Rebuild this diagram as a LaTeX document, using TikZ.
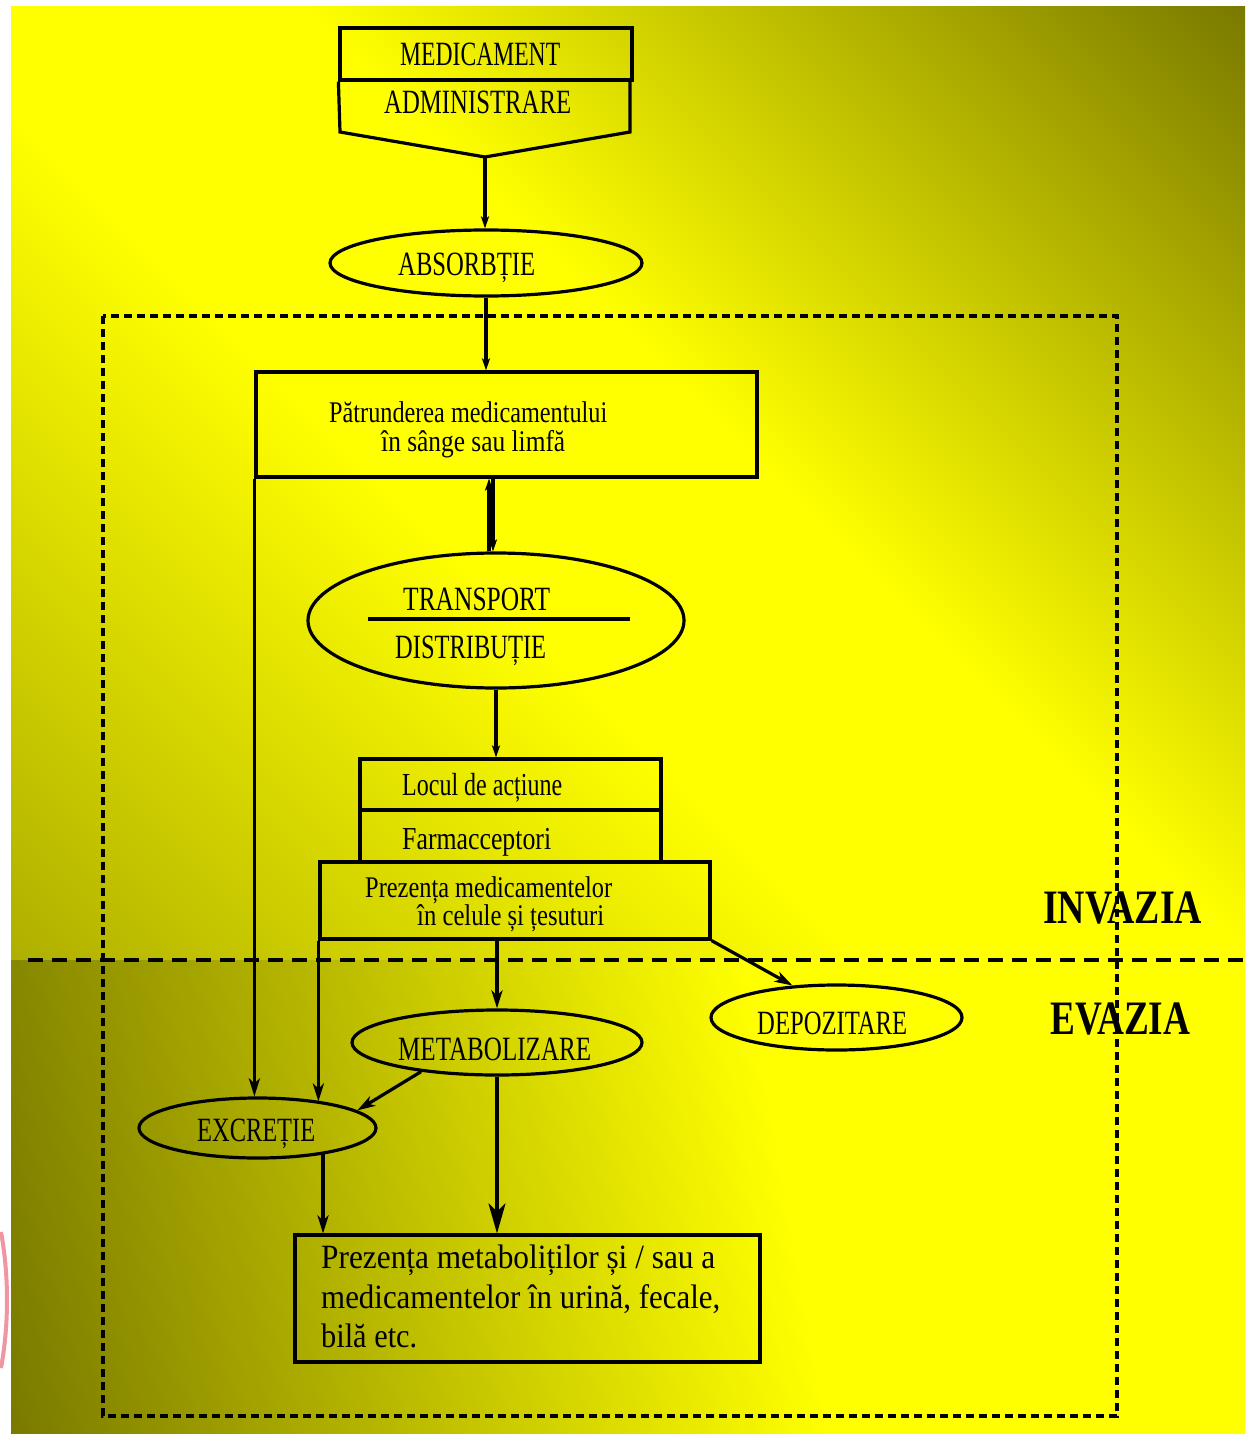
\documentclass[tikz,border=0pt]{standalone}
\usepackage{fontspec}
\setmainfont{Liberation Serif}
\usetikzlibrary{shapes.geometric,arrows.meta}
\definecolor{yel}{RGB}{255,255,0}
\definecolor{olD}{RGB}{122,122,0}
\definecolor{olM}{RGB}{175,175,0}
\definecolor{pinkarc}{RGB}{240,150,160}
\pgfdeclarehorizontalshading{topbg}{100bp}{color(0bp)=(olM); color(14.6bp)=(olM); color(42bp)=(yel); color(55bp)=(yel); color(85.4bp)=(olD); color(100bp)=(olD)}
\pgfdeclarehorizontalshading{botbg}{100bp}{color(0bp)=(olD); color(21bp)=(olD); color(57bp)=(yel); color(100bp)=(yel)}
\newcommand{\fitx}[2]{\resizebox{#1bp}{\height}{#2}}
\begin{document}
\begin{tikzpicture}[x=1bp,y=-1bp,
  box/.style={draw, line width=3.2bp, rectangle, inner sep=0pt},
  oval/.style={draw, line width=3.2bp, ellipse, inner sep=0pt},
  lbl/.style={anchor=base west, inner sep=0pt},
  capsf/.style={font=\fontsize{34bp}{40bp}\selectfont},
  smallf/.style={font=\fontsize{30bp}{36bp}\selectfont},
  midf/.style={font=\fontsize{32bp}{38bp}\selectfont},
  bigf/.style={font=\fontsize{34bp}{40bp}\selectfont},
  headf/.style={font=\fontsize{48bp}{54bp}\selectfont\bfseries},
  arr/.style={line width=3.2bp, -{Stealth[length=18bp,width=11bp,inset=5bp]}},
  arrs/.style={line width=3.2bp, -{Stealth[length=12bp,width=8bp,inset=3bp]}},
  bigarr/.style={line width=3.2bp, -{Stealth[length=30bp,width=17bp,inset=8bp]}},
  dashrect/.style={line width=3.2bp, dash pattern=on 8bp off 5bp},
  dashdiv/.style={line width=3.2bp, dash pattern=on 15bp off 9bp},
  edge/.style={line width=3.2bp}]
\useasboundingbox (0,0) rectangle (1245,1434);
\fill[white] (0,0) rectangle (1245,1434);
\shade[shading=topbg, shading angle=45] (11,7) rectangle (1245,960);
\shade[shading=botbg, shading angle=10] (11,960) rectangle (1245,1434);
\draw[pinkarc, line width=4bp] (1,1232) .. controls (9,1275) and (9,1325) .. (1,1368);

% shapes
\node[box, minimum width=292bp, minimum height=52bp] (med) at (486,54) {};
\coordinate (admtip) at (485,157);
\draw[edge, line join=miter] (med.south west) -- (340,132) -- (admtip) -- (630,132) -- (630,80);
\node[oval, minimum width=312bp, minimum height=66bp] (abs) at (486,263) {};
\node[box, minimum width=501bp, minimum height=105bp] (pat) at (506.5,424.5) {};
\node[oval, minimum width=376bp, minimum height=135bp] (trans) at (496,620.5) {};
\draw[edge] (368,619) -- (630,619);
\node[box, minimum width=301bp, minimum height=51bp] (loc) at (510.5,784.5) {};
\node[box, minimum width=301bp, minimum height=52bp] (farm) at (510.5,836) {};
\node[box, minimum width=390bp, minimum height=77bp] (prez) at (515,900.5) {};
\node[oval, minimum width=251bp, minimum height=65bp] (dep) at (836.5,1017.5) {};
\node[oval, minimum width=290bp, minimum height=65bp] (metab) at (497,1042.5) {};
\node[oval, minimum width=237bp, minimum height=60bp] (exc) at (257.5,1128) {};
\node[box, minimum width=465bp, minimum height=127bp] (fin) at (527.5,1298.5) {};

% dashed frame and divider
\draw[dashrect] (103,316) rectangle (1117,1416);
\draw[dashdiv] (28,960) -- (1245,960);

% texts
\node[lbl, capsf] (tmed) at (400,66) {\fitx{160}{MEDICAMENT}};
\node[lbl, capsf] (tadm) at (384,114) {\fitx{187}{ADMINISTRARE}};
\node[lbl, capsf] (tabs) at (398,275) {\fitx{137}{ABSORBȚIE}};
\node[lbl, smallf] (tpat1) at (329,422) {\fitx{278}{Pătrunderea medicamentului}};
\node[lbl, smallf] (tpat2) at (381,451) {\fitx{184}{în sânge sau limfă}};
\node[lbl, capsf] (ttr) at (403,610) {\fitx{147}{TRANSPORT}};
\node[lbl, capsf] (tdis) at (395,658) {\fitx{151}{DISTRIBUȚIE}};
\node[lbl, midf] (tloc) at (402,795) {\fitx{160}{Locul de acțiune}};
\node[lbl, midf] (tfarm) at (402,849) {\fitx{149}{Farmacceptori}};
\node[lbl, smallf] (tprez1) at (365,897) {\fitx{247}{Prezența medicamentelor}};
\node[lbl, smallf] (tprez2) at (417,925) {\fitx{187}{în celule și țesuturi}};
\node[lbl, headf] (tinv) at (1043,923) {\fitx{159}{INVAZIA}};
\node[lbl, headf] (tev) at (1050,1034) {\fitx{140}{EVAZIA}};
\node[lbl, capsf] (tdep) at (757,1034) {\fitx{150}{DEPOZITARE}};
\node[lbl, capsf] (tmet) at (398,1060) {\fitx{193}{METABOLIZARE}};
\node[lbl, capsf] (texc) at (197,1141) {\fitx{118}{EXCREȚIE}};
\node[lbl, bigf] (tfin1) at (321,1268) {\fitx{394}{Prezența metaboliților și / sau a}};
\node[lbl, bigf] (tfin2) at (321,1308) {\fitx{399}{medicamentelor în urină, fecale,}};
\node[lbl, bigf] (tfin3) at (321,1347) {\fitx{96}{bilă etc.}};

% connectors
\draw[arrs] (admtip) -- (admtip |- abs.north);
\draw[arrs] (abs.south) -- (abs.south |- pat.north);
\coordinate (u1) at ([xshift=-7bp]trans.north);
\coordinate (u2) at ([xshift=-3bp]trans.north);
\draw[arrs] (u1) -- (u1 |- pat.south);
\draw[arrs] (u2 |- pat.south) -- (u2);
\draw[arrs] (trans.south) -- (trans.south |- loc.north);
\draw[arr] (metab.north |- prez.south) -- (metab.north);
\draw[arr] (prez.south west) -- (prez.south west |- exc.22);
\draw[arr] (pat.south west) -- (pat.south west |- exc.north);
\draw[arr] (prez.south east) -- (dep.144);
\draw[arr] (metab.201) -- (exc.10);
\draw[bigarr] (metab.south) -- (metab.south |- fin.north);
\draw[arr] (exc.-22) -- (exc.-22 |- fin.north);
\end{tikzpicture}
\end{document}
